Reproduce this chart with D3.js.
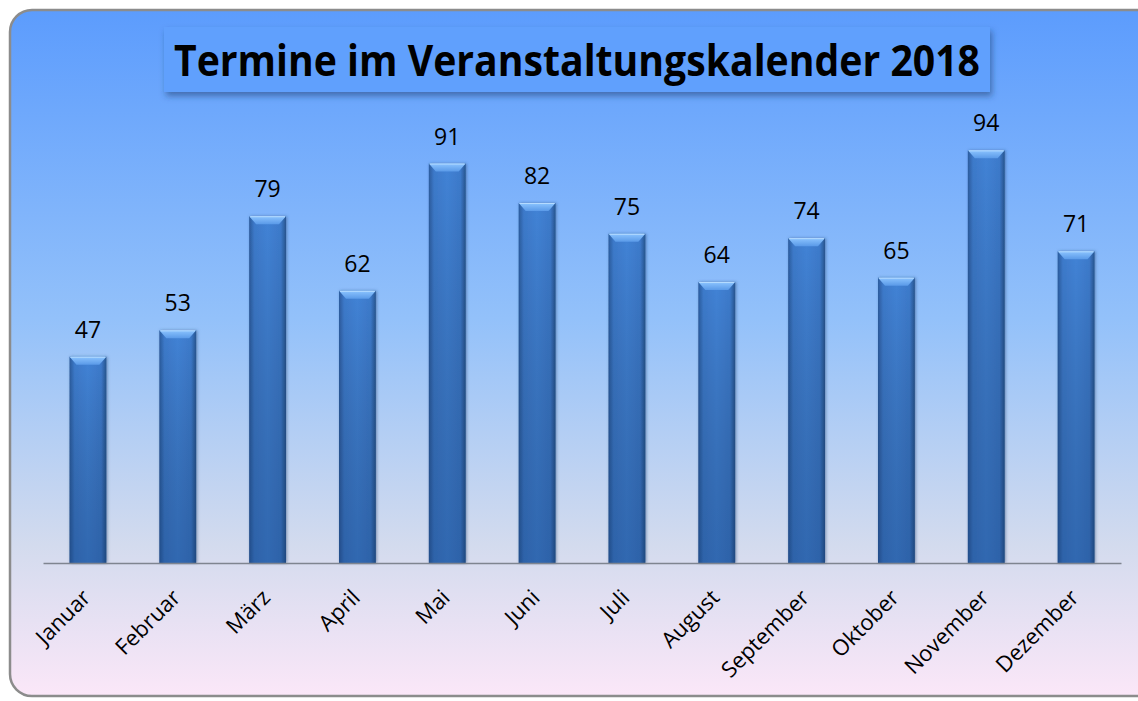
<!DOCTYPE html>
<html>
<head>
<meta charset="utf-8">
<script src="https://cdn.jsdelivr.net/npm/d3@7"></script>
<style>
  body { margin: 0; background: #fff; }
  svg { display: block; }
</style>
</head>
<body>
<div id="chart-container"></div>
<script>
const width = 1138;
const height = 701;

// data
const months = ["Januar", "Februar", "März", "April", "Mai", "Juni", "Juli",
    "August", "September", "Oktober", "November", "Dezember"];
const termine = [47, 53, 79, 62, 91, 82, 75, 64, 74, 65, 94, 71];
const title = "Termine im Veranstaltungskalender 2018";

const svg = d3.select("div#chart-container").append("svg")
    .attr("width", width)
    .attr("height", height)
    .style("font-family", "'Open Sans', 'Noto Sans', sans-serif");

const defs = svg.append("defs");

// background gradient
const bg = defs.append("linearGradient").attr("id", "bg")
    .attr("x1", 0).attr("y1", 0).attr("x2", 0).attr("y2", 1);
bg.append("stop").attr("offset", "0%").attr("stop-color", "#5c9cfd");
bg.append("stop").attr("offset", "45%").attr("stop-color", "#93c1fa");
bg.append("stop").attr("offset", "78%").attr("stop-color", "#d3dbee");
bg.append("stop").attr("offset", "100%").attr("stop-color", "#fbe7f8");

// bar gradients
const barH = defs.append("linearGradient").attr("id", "barH")
    .attr("x1", 0).attr("y1", 0).attr("x2", 1).attr("y2", 0);
barH.append("stop").attr("offset", "0%").attr("stop-color", "#2b5c9e");
barH.append("stop").attr("offset", "14%").attr("stop-color", "#3d7acb");
barH.append("stop").attr("offset", "50%").attr("stop-color", "#4283d6");
barH.append("stop").attr("offset", "86%").attr("stop-color", "#3d7acb");
barH.append("stop").attr("offset", "100%").attr("stop-color", "#27558f");

const barV = defs.append("linearGradient").attr("id", "barV")
    .attr("x1", 0).attr("y1", 0).attr("x2", 0).attr("y2", 1);
barV.append("stop").attr("offset", "0%").attr("stop-color", "#000").attr("stop-opacity", 0);
barV.append("stop").attr("offset", "100%").attr("stop-color", "#0a2a5a").attr("stop-opacity", 0.3);

const cap = defs.append("linearGradient").attr("id", "cap")
    .attr("x1", 0).attr("y1", 0).attr("x2", 0).attr("y2", 1);
cap.append("stop").attr("offset", "0%").attr("stop-color", "#8cc4ff");
cap.append("stop").attr("offset", "100%").attr("stop-color", "#5a9ae8");

const shadow = defs.append("filter").attr("id", "shadow")
    .attr("x", "-20%").attr("y", "-20%").attr("width", "150%").attr("height", "160%");
shadow.append("feDropShadow").attr("dx", 2).attr("dy", 4).attr("stdDeviation", 3)
    .attr("flood-color", "#1d3f70").attr("flood-opacity", 0.55);

const barShadow = defs.append("filter").attr("id", "barShadow")
    .attr("x", "-30%").attr("y", "-10%").attr("width", "160%").attr("height", "120%");
barShadow.append("feDropShadow").attr("dx", 1).attr("dy", 0).attr("stdDeviation", 1.5)
    .attr("flood-color", "#1d3f70").attr("flood-opacity", 0.5);

// chart frame
svg.append("rect")
    .attr("x", 10).attr("y", 10)
    .attr("width", 1150).attr("height", 686)
    .attr("rx", 22).attr("ry", 22)
    .attr("fill", "url(#bg)")
    .attr("stroke", "#8c8c8c")
    .attr("stroke-width", 2.5);

// title box
const tg = svg.append("g");
tg.append("rect")
    .attr("x", 164).attr("y", 27)
    .attr("width", 826).attr("height", 65)
    .attr("fill", "#60a0fd")
    .attr("filter", "url(#shadow)");
tg.append("text")
    .attr("x", 577).attr("y", 76)
    .attr("text-anchor", "middle")
    .attr("font-size", 43)
    .attr("font-weight", "bold")
    .attr("fill", "#000")
    .attr("textLength", 806)
    .attr("lengthAdjust", "spacingAndGlyphs")
    .text(title);

// scales
const xScale = d3.scaleBand().domain(months).range([43, 1121]).paddingInner(0.59).paddingOuter(0.295);
const yScale = d3.scaleLinear().domain([0, 100]).range([563, 124]);

const data = months.map((m, i) => ({ month: m, value: termine[i] }));

const bars = svg.append("g").selectAll("g.bar")
    .data(data)
    .enter()
    .append("g")
    .attr("class", "bar");

bars.append("rect")
    .attr("x", d => xScale(d.month))
    .attr("y", d => yScale(d.value))
    .attr("width", xScale.bandwidth())
    .attr("height", d => yScale(0) - yScale(d.value))
    .attr("fill", "url(#barH)")
    .attr("filter", "url(#barShadow)");

bars.append("rect")
    .attr("x", d => xScale(d.month))
    .attr("y", d => yScale(d.value))
    .attr("width", xScale.bandwidth())
    .attr("height", d => yScale(0) - yScale(d.value))
    .attr("fill", "url(#barV)");

// bevel on top of each bar
bars.append("path")
    .attr("d", d => {
        const x0 = xScale(d.month), w = xScale.bandwidth(), y0 = yScale(d.value);
        return "M" + x0 + "," + y0 + " L" + (x0 + w) + "," + y0 +
            " L" + (x0 + w - 7) + "," + (y0 + 8) + " L" + (x0 + 7) + "," + (y0 + 8) + "Z";
    })
    .attr("fill", "url(#cap)");

bars.append("line")
    .attr("x1", d => xScale(d.month) + 1)
    .attr("x2", d => xScale(d.month) + xScale.bandwidth() - 1)
    .attr("y1", d => yScale(d.value) + 0.5)
    .attr("y2", d => yScale(d.value) + 0.5)
    .attr("stroke", "#b6dcff")
    .attr("stroke-width", 1);

// value labels
bars.append("text")
    .attr("x", d => xScale(d.month) + xScale.bandwidth() / 2)
    .attr("y", d => yScale(d.value) - 19)
    .attr("text-anchor", "middle")
    .attr("font-size", 23)
    .attr("fill", "#000")
    .text(d => d.value);

// x axis
const xaxis = d3.axisBottom(xScale).tickSize(0).tickPadding(0);
const ax = svg.append("g")
    .attr("class", "axis")
    .attr("transform", "translate(0," + yScale(0) + ")")
    .call(xaxis);
ax.select(".domain").attr("stroke", "#7f8590").attr("stroke-width", 1.3);
ax.selectAll(".tick text")
    .attr("font-size", 22)
    .attr("font-family", "'Open Sans', 'Noto Sans', sans-serif")
    .attr("fill", "#000")
    .attr("text-anchor", "end")
    .attr("dy", 0)
    .attr("transform", "translate(4,36) rotate(-45)");
</script>
</body>
</html>
